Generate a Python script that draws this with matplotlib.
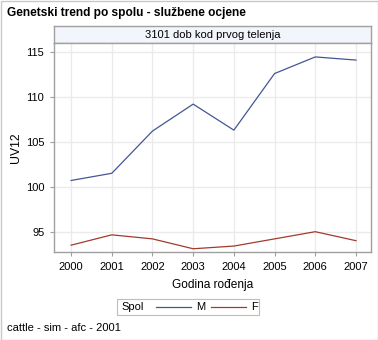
import matplotlib.pyplot as plt
from matplotlib.lines import Line2D
from matplotlib.patches import Rectangle

plt.rcParams['font.family'] = ['Liberation Sans', 'DejaVu Sans']

# godine rođenja i genetski trend po spolu
godine = [2000, 2001, 2002, 2003, 2004, 2005, 2006, 2007]
uv12_m = [100.7, 101.5, 106.2, 109.2, 106.3, 112.6, 114.45, 114.1]
uv12_f = [93.5, 94.65, 94.2, 93.1, 93.4, 94.2, 95.0, 94.0]

boja_m = '#445694'
boja_f = '#A23A2E'
okvir = '#A0A0A0'

W, H = 378, 340
fig = plt.figure(figsize=(W / 100, H / 100), dpi=100)

def fx(px):
    return px / W

def fy(py):
    return 1 - py / H

# vanjski okvir
fig.add_artist(Rectangle((fx(0.5), fy(339.5)), fx(377), 339 / H, fill=False,
                         edgecolor='#C8C8C8', linewidth=1.0, transform=fig.transFigure))

fig.text(fx(7), fy(13), 'Genetski trend po spolu - službene ocjene',
         fontsize=8.6, fontweight='bold', va='center', ha='left')

# zaglavlje panela
hdr = fig.add_axes([fx(54), fy(43), fx(371) - fx(54), (43 - 26) / H])
hdr.set_facecolor('#F3F5FC')
hdr.set_xticks([])
hdr.set_yticks([])
for s in hdr.spines.values():
    s.set_color(okvir)
    s.set_linewidth(1.0)
hdr.text(0.5, 0.5, '3101 dob kod prvog telenja', ha='center', va='center',
         fontsize=8, transform=hdr.transAxes)

ax = fig.add_axes([fx(54), fy(252), fx(371) - fx(54), (252 - 43) / H])
ax.plot(godine, uv12_m, color=boja_m, linewidth=0.9)
ax.plot(godine, uv12_f, color=boja_f, linewidth=0.9)

ax.set_xlim(1999.58, 2007.37)
ax.set_ylim(92.74, 116.0)
ax.set_xticks(godine)
ax.set_yticks([95, 100, 105, 110, 115])
ax.grid(True, color='#EBEBEB', linewidth=1.0)
ax.set_axisbelow(True)
for s in ax.spines.values():
    s.set_color(okvir)
    s.set_linewidth(1.0)
ax.tick_params(direction='out', length=3, width=0.8, color=okvir,
               labelsize=8, pad=4)
ax.set_xlabel('Godina rođenja', fontsize=8.6, labelpad=5)
ax.set_ylabel('UV12', fontsize=8.8, labelpad=3)

# legenda
fig.add_artist(Rectangle((fx(117), fy(315)), fx(259) - fx(117), 16 / H, fill=False,
                         edgecolor='#BDBDBD', linewidth=0.8, transform=fig.transFigure))
fig.text(fx(121), fy(307), 'Spol', fontsize=8, va='center', ha='left')
fig.add_artist(Line2D([fx(156), fx(191)], [fy(307), fy(307)], color=boja_m,
                      linewidth=0.9, transform=fig.transFigure))
fig.text(fx(196), fy(307), 'M', fontsize=8, va='center', ha='left')
fig.add_artist(Line2D([fx(211), fx(246)], [fy(307), fy(307)], color=boja_f,
                      linewidth=0.9, transform=fig.transFigure))
fig.text(fx(251), fy(307), 'F', fontsize=8, va='center', ha='left')

fig.text(fx(7), fy(328), 'cattle - sim - afc - 2001', fontsize=8, va='center', ha='left')

fig.savefig('out.png', dpi=100)
